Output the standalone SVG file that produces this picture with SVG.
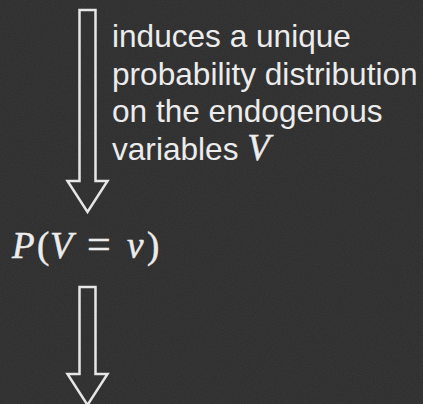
<svg xmlns="http://www.w3.org/2000/svg" width="423" height="404" viewBox="0 0 423 404">
  <defs>
    <filter id="noise" x="0" y="0" width="100%" height="100%">
      <feTurbulence type="fractalNoise" baseFrequency="0.9" numOctaves="2" seed="3" result="n"/>
      <feColorMatrix type="matrix" values="0 0 0 0 1  0 0 0 0 1  0 0 0 0 1  0 0 0 0.06 0"/>
    </filter>
    <style>
      .arrow { fill: none; stroke: #e6e6e6; stroke-width: 2.5; stroke-linejoin: miter; }
      .label { font-family: "Liberation Sans", Arial, sans-serif; font-size: 31.6px; fill: #ececec; }
      .math { font-family: "Liberation Serif", "DejaVu Serif", serif; font-size: 37px; fill: #ececec; stroke: #ececec; stroke-width: 0.5; }
      .it { font-style: italic; }
    </style>
  </defs>
  <rect x="0" y="0" width="423" height="404" fill="#2c2c2c"/>
  <rect x="0" y="0" width="423" height="404" filter="url(#noise)"/>

  <g id="connectors">
    <polygon id="arrow1" class="arrow" points="79.5,10 95.5,10 95.5,181 107.5,181 87.5,212 67.5,181 79.5,181"/>
    <polygon id="arrow2" class="arrow" points="79.5,287 95.5,287 95.5,374 107.5,374 87.5,405 67.5,374 79.5,374"/>
  </g>

  <g id="label1">
    <text class="label" x="112" y="47">induces a unique</text>
    <text class="label" x="112" y="84.5">probability distribution</text>
    <text class="label" x="112" y="122">on the endogenous</text>
    <text class="label" x="112" y="159.5">variables <tspan class="math it" font-size="33" stroke-width="0">V</tspan></text>
  </g>

  <g id="node-P">
    <text class="math" y="258"><tspan class="it" x="12">P</tspan><tspan x="37">(</tspan><tspan class="it" x="50">V</tspan><tspan x="87" font-size="42">=</tspan><tspan class="it" x="127">v</tspan><tspan x="147">)</tspan></text>
  </g>
</svg>
